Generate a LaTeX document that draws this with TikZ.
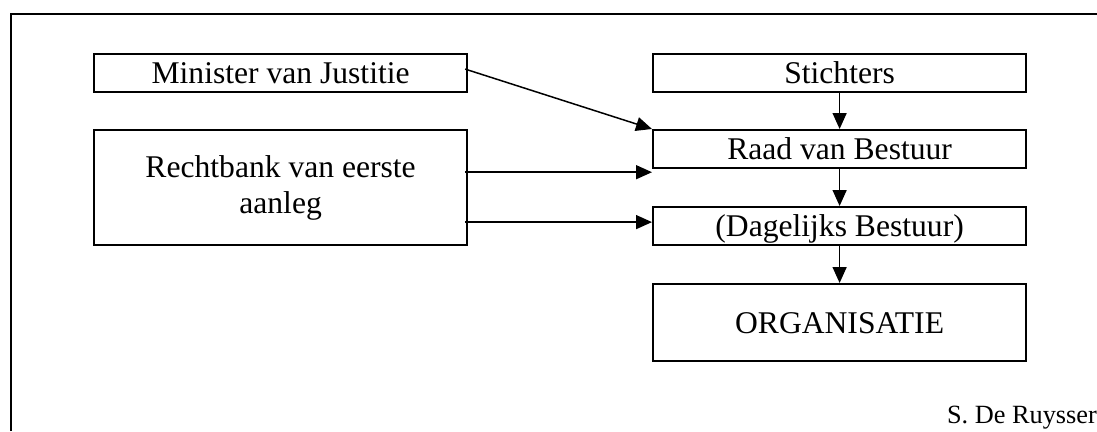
\documentclass[tikz,border=0pt]{standalone}
\usepackage{fontspec}
\setmainfont{Liberation Serif}
\usetikzlibrary{arrows.meta}
\begin{document}
\begin{tikzpicture}[x=1pt,y=-1pt,
  frame/.style={line width=2.2pt},
  boxbase/.style={draw, line width=2.2pt, inner sep=0pt, anchor=north west,
    minimum width=373pt, font=\fontsize{31.6}{36}\selectfont},
  onebox/.style={boxbase, minimum height=38pt, text height=21pt, text depth=0pt},
  link/.style={line width=1.5pt, -{Triangle[length=16pt,width=14pt]}}]
\useasboundingbox (0,0) rectangle (1097,431);
% open outer frame
\draw[frame] (11,431) -- (11,14) -- (1097,14);

% left column
\node[onebox] (min) at (93,53) {Minister van Justitie};
\node[boxbase, minimum height=115pt, align=center] (rb) at (93,129) {Rechtbank van eerste\\aanleg};

% right column
\node[onebox] (sti) at (652,53) {Stichters};
\node[onebox] (raad) at (652,129) {Raad van Bestuur};
\node[onebox] (dag) at (652,206) {(Dagelijks Bestuur)};
\node[onebox, minimum height=77pt] (org) at (652,283) {ORGANISATIE};

% signature
\node[anchor=base east, inner sep=0pt, font=\fontsize{26.3}{30}\selectfont] (sig) at (1097,423) {S. De Ruysser};

% connectors
\draw[link] ([xshift=-3pt,yshift=4pt]min.east) -- (raad.north west);
\draw[link] ([xshift=-3pt,yshift=-3pt]rb.east |- raad.south west) -- ([yshift=-3pt]raad.south west);
\draw[link] ([xshift=-3pt,yshift=4pt]rb.east |- dag.west) -- ([yshift=4pt]dag.west);
\draw[link] (sti.south) -- (raad.north);
\draw[link] (raad.south) -- (dag.north);
\draw[link] (dag.south) -- (org.north);
\end{tikzpicture}
\end{document}
